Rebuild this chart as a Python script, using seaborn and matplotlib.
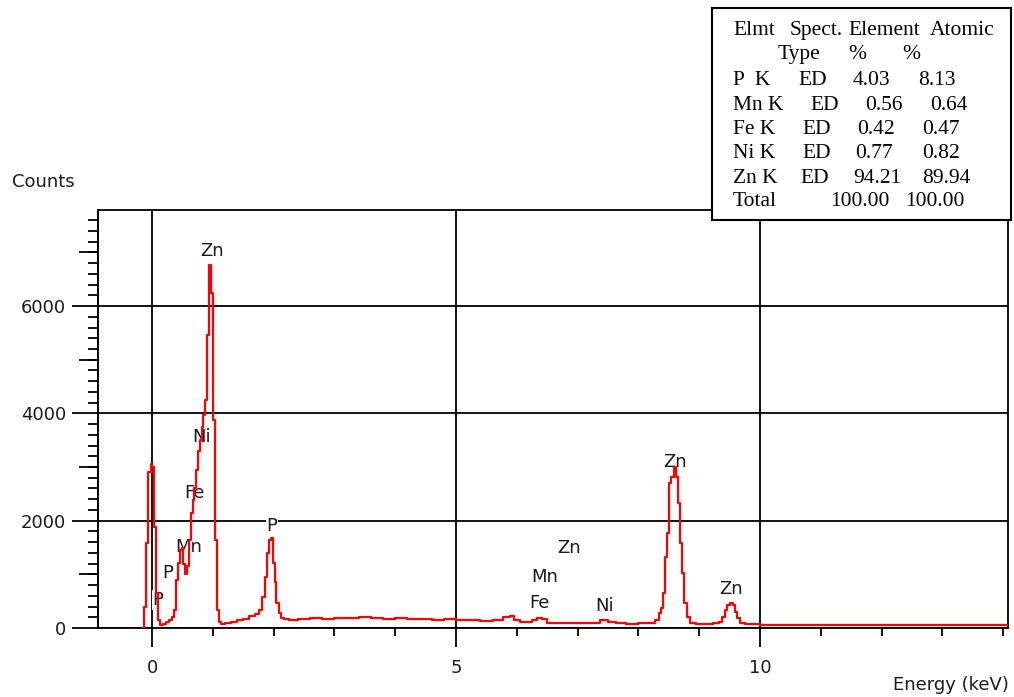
import pandas as pd
import seaborn as sns
import matplotlib.pyplot as plt
from matplotlib.ticker import MultipleLocator, NullLocator, FixedLocator
from matplotlib.patches import Rectangle

# EDS spectrum (keV, counts)
energy = [-0.15, -0.12, -0.08, -0.04, -0.01, 0.02, 0.05, 0.08, 0.11, 0.16,
          0.21, 0.26, 0.31, 0.35, 0.38, 0.41, 0.44, 0.47, 0.50, 0.53,
          0.56, 0.59, 0.62, 0.65, 0.68, 0.71, 0.74, 0.77, 0.80, 0.83,
          0.86, 0.89, 0.92, 0.96, 0.99, 1.02, 1.05, 1.08, 1.11, 1.16,
          1.25, 1.35, 1.45, 1.55, 1.65, 1.72, 1.79, 1.84, 1.88, 1.91,
          1.94, 1.97, 2.00, 2.03, 2.06, 2.10, 2.15, 2.20, 2.30, 2.50,
          2.70, 2.90, 3.10, 3.30, 3.50, 3.70, 3.90, 4.10, 4.30, 4.50,
          4.70, 4.90, 5.10, 5.30, 5.50, 5.70, 5.85, 5.92, 6.00, 6.10,
          6.20, 6.30, 6.38, 6.45, 6.55, 6.70, 6.90, 7.10, 7.30, 7.45,
          7.55, 7.70, 7.90, 8.10, 8.25, 8.31, 8.36, 8.39, 8.42, 8.45,
          8.49, 8.52, 8.56, 8.60, 8.63, 8.67, 8.70, 8.73, 8.77, 8.82,
          8.88, 9.00, 9.15, 9.30, 9.36, 9.40, 9.44, 9.49, 9.53, 9.57,
          9.61, 9.65, 9.70, 9.80, 9.95, 10.05, 11.0, 12.0, 13.0, 14.08]
counts = [0, 390, 1580, 2900, 3050, 3000, 1880, 650, 150, 50,
          80, 110, 150, 200, 340, 890, 1210, 1450, 1500, 1200,
          1000, 1150, 1640, 2140, 2390, 2600, 2950, 3300, 3500, 3750,
          3970, 4250, 5460, 6770, 6250, 3880, 1640, 340, 120, 80,
          100, 120, 140, 170, 220, 270, 340, 580, 950, 1400,
          1640, 1680, 1210, 860, 470, 280, 190, 160, 150, 170,
          180, 170, 190, 180, 200, 190, 170, 180, 160, 170,
          150, 160, 140, 150, 130, 140, 200, 230, 150, 110,
          120, 150, 190, 160, 100, 90, 100, 90, 100, 140,
          110, 90, 80, 90, 100, 150, 280, 370, 650, 1320,
          1770, 2700, 2820, 3000, 2820, 2330, 1580, 1030, 470, 200,
          90, 80, 70, 90, 120, 200, 340, 430, 470, 420,
          300, 190, 90, 70, 80, 60, 55, 55, 50, 50]

peak_labels = ["Zn", "Ni", "Fe", "Mn", "P", "P", "P", "Zn", "Mn", "Fe", "Ni", "Zn", "Zn"]
peak_x = [0.99, 0.82, 0.69, 0.61, 0.25, 0.10, 1.97, 6.86, 6.46, 6.38, 7.45, 8.60, 9.52]
peak_y = [7030, 3560, 2516, 1510, 1025, 522, 1900, 1490, 950, 466, 410, 3094, 727]

# quantification table
elements = ["P  K", "Mn K", "Fe K", "Ni K", "Zn K"]
element_pct = ["4.03", "0.56", "0.42", "0.77", "94.21"]
atomic_pct = ["8.13", "0.64", "0.47", "0.82", "89.94"]
total_pct = ["100.00", "100.00"]

W, H = 1014, 697

sns.set_theme(style="white")
plt.rcParams["font.family"] = ["DejaVu Sans"]

df = pd.DataFrame({"energy": energy, "counts": counts})

fig = plt.figure(figsize=(W / 100, H / 100), dpi=100)
ax = fig.add_axes([98 / W, 1 - 628 / H, (1008 - 98) / W, (628 - 210) / H])

sns.lineplot(data=df, x="energy", y="counts", ax=ax, color="red",
             linewidth=1.6, drawstyle="steps-mid", estimator=None, zorder=4)

ax.set_xlim(-0.89, 14.08)
ax.set_ylim(0, 7790)
ax.set_xlabel("")
ax.set_ylabel("")

ax.xaxis.set_major_locator(FixedLocator([0, 5, 10]))
ax.xaxis.set_minor_locator(MultipleLocator(1))
ax.yaxis.set_major_locator(MultipleLocator(2000))
ax.yaxis.set_minor_locator(MultipleLocator(200))
ax.tick_params(axis="both", which="both", direction="out", color="black",
               width=1.3, labelsize=13, labelcolor="#1a1a1a")
ax.tick_params(axis="y", which="major", length=19, pad=4, left=True)
ax.tick_params(axis="y", which="minor", length=7, left=True)
ax.tick_params(axis="x", which="major", length=14, pad=8, bottom=True)
ax.tick_params(axis="x", which="minor", length=6, bottom=True)

sec = ax.secondary_yaxis("left")
sec.yaxis.set_major_locator(FixedLocator([1000, 3000, 5000, 7000]))
sec.yaxis.set_minor_locator(NullLocator())
sec.tick_params(axis="y", length=14, width=1.3, color="black", labelleft=False)
sec.spines["left"].set_color("black")
sec.spines["left"].set_linewidth(1.3)

ax.grid(True, which="major", color="black", linewidth=1.3)
ax.set_axisbelow(True)
for s in ax.spines.values():
    s.set_visible(True)
    s.set_color("black")
    s.set_linewidth(1.3)

for lab, x, y in zip(peak_labels, peak_x, peak_y):
    ax.text(x, y, lab, ha="center", va="center", fontsize=13, color="#1a1a1a",
            zorder=3, bbox=dict(boxstyle="square,pad=0.05", fc="white", ec="none"))

fig.text(12 / W, 1 - 182 / H, "Counts", ha="left", va="center",
         fontsize=13, color="#1a1a1a")
fig.text(1009 / W, 1 - 685 / H, "Energy (keV)", ha="right", va="center",
         fontsize=13, color="#1a1a1a")

# table box in the upper right
fig.add_artist(Rectangle((712 / W, 1 - 220 / H), (1011 - 712) / W, (220 - 8) / H,
                         transform=fig.transFigure, facecolor="white",
                         edgecolor="black", linewidth=1.5, zorder=5))

serif = dict(fontsize=15.5, family=["Liberation Serif", "DejaVu Serif"],
             color="black", va="baseline", ha="left", zorder=6)


def put(px, py, s):
    # py is the visual row centre; text sits on a baseline a little lower
    fig.text(px / W, 1 - (py + 6) / H, s, **serif)


put(733, 29, "Elmt")
put(790, 29, "Spect.")
put(848, 29, "Element")
put(930, 29, "Atomic")
put(778, 53, "Type")
put(848, 53, "%")
put(902, 53, "%")

row_y = [79, 104, 128, 152, 177]
ed_x = [798, 810, 802, 802, 800]
el_x = [853, 865, 857, 855, 853]
at_x = [918, 930, 922, 922, 922]
for i in range(len(elements)):
    put(733, row_y[i], elements[i])
    put(ed_x[i], row_y[i], "ED")
    put(el_x[i], row_y[i], element_pct[i])
    put(at_x[i], row_y[i], atomic_pct[i])

put(733, 200, "Total")
put(830, 200, total_pct[0])
put(905, 200, total_pct[1])

fig.savefig("out.png", dpi=100)
